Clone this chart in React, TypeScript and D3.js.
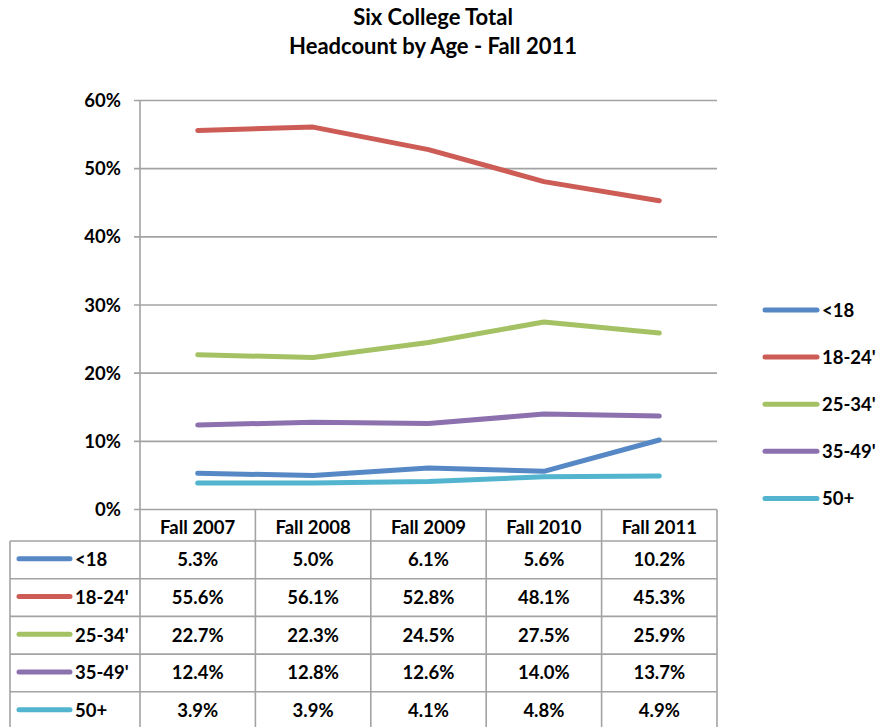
import React from "react";
import * as d3 from "d3";

const categories = ["Fall 2007", "Fall 2008", "Fall 2009", "Fall 2010", "Fall 2011"];
const seriesNames = ["<18", "18-24'", "25-34'", "35-49'", "50+"];
const under18 = [5.3, 5.0, 6.1, 5.6, 10.2];
const age18to24 = [55.6, 56.1, 52.8, 48.1, 45.3];
const age25to34 = [22.7, 22.3, 24.5, 27.5, 25.9];
const age35to49 = [12.4, 12.8, 12.6, 14.0, 13.7];
const age50plus = [3.9, 3.9, 4.1, 4.8, 4.9];
const yTicks = [0, 10, 20, 30, 40, 50, 60];
const colors = ["#5688c5", "#cc5c55", "#a4c264", "#8c71ae", "#52b4ce"];

const seriesValues = [under18, age18to24, age25to34, age35to49, age50plus];

const W = 880;
const H = 727;
const plotLeft = 140;
const plotRight = 717;
const plotTop = 100.5;
const plotBottom = 509.5;
const rowH = 37.7;
const headerBottom = 541;
const tableLeft = 10;
const FONT = "Lato, 'Open Sans', sans-serif";
const GRID = "#a3a3a3";
const FS = 18.5;

export default function App() {
  const x = d3.scaleBand<string>().domain(categories).range([plotLeft, plotRight]);
  const y = d3.scaleLinear().domain([0, 60]).range([plotBottom, plotTop]);
  const line = d3
    .line<number>()
    .x((_, i) => (x(categories[i]) as number) + x.bandwidth() / 2)
    .y((d) => y(d));

  const nRows = seriesNames.length;
  const tableBottom = headerBottom + rowH * nRows;

  return (
    <svg width={W} height={H} style={{ position: "absolute", left: 0, top: 0 }} fontFamily={FONT}>
      <rect width={W} height={H} fill="#fff" />
      <text x={433} y={25} textAnchor="middle" fontSize={22} fontWeight="bold">
        Six College Total
      </text>
      <text x={433} y={54} textAnchor="middle" fontSize={22} fontWeight="bold">
        Headcount by Age - Fall 2011
      </text>

      {yTicks.map((t) => (
        <g key={t}>
          <line x1={134} x2={plotRight} y1={y(t)} y2={y(t)} stroke={GRID} strokeWidth={1.6} />
          <text x={121} y={y(t) + 6.5} textAnchor="end" fontSize={FS} fontWeight="bold">
            {t}%
          </text>
        </g>
      ))}
      <line x1={plotLeft} x2={plotLeft} y1={plotTop} y2={tableBottom} stroke={GRID} strokeWidth={1.6} />

      {seriesValues.map((vals, i) => (
        <path
          key={i}
          d={line(vals) || ""}
          fill="none"
          stroke={colors[i]}
          strokeWidth={5}
          strokeLinecap="round"
          strokeLinejoin="round"
        />
      ))}

      {/* data table */}
      {categories.map((c, i) => {
        const x0 = x(c) as number;
        return (
          <g key={c}>
            <line x1={x0 + x.bandwidth()} x2={x0 + x.bandwidth()} y1={plotBottom} y2={tableBottom} stroke={GRID} strokeWidth={1.6} />
            <text x={x0 + x.bandwidth() / 2} y={plotBottom + 24} textAnchor="middle" fontSize={FS} fontWeight="bold">
              {c}
            </text>
          </g>
        );
      })}
      <line x1={tableLeft} x2={tableLeft} y1={headerBottom} y2={tableBottom} stroke={GRID} strokeWidth={1.6} />
      {d3.range(nRows + 1).map((r) => (
        <line key={r} x1={tableLeft} x2={plotRight} y1={headerBottom + r * rowH} y2={headerBottom + r * rowH} stroke={GRID} strokeWidth={1.6} />
      ))}
      {seriesNames.map((s, r) => {
        const cy = headerBottom + r * rowH + rowH / 2;
        return (
          <g key={s}>
            <line x1={19} x2={70} y1={cy - 1} y2={cy - 1} stroke={colors[r]} strokeWidth={5} strokeLinecap="round" />
            <text x={75} y={cy + 6.5} fontSize={FS} fontWeight="bold">
              {s}
            </text>
            {seriesValues[r].map((v, i) => (
              <text
                key={i}
                x={(x(categories[i]) as number) + x.bandwidth() / 2}
                y={cy + 6.5}
                textAnchor="middle"
                fontSize={FS}
                fontWeight="bold"
              >
                {v.toFixed(1)}%
              </text>
            ))}
          </g>
        );
      })}

      {/* right legend */}
      {seriesNames.map((s, r) => {
        const ly = 310 + r * 47.1;
        return (
          <g key={s}>
            <line x1={765} x2={817} y1={ly} y2={ly} stroke={colors[r]} strokeWidth={5} strokeLinecap="round" />
            <text x={822} y={ly + 6.5} fontSize={FS} fontWeight="bold">
              {s}
            </text>
          </g>
        );
      })}
    </svg>
  );
}
